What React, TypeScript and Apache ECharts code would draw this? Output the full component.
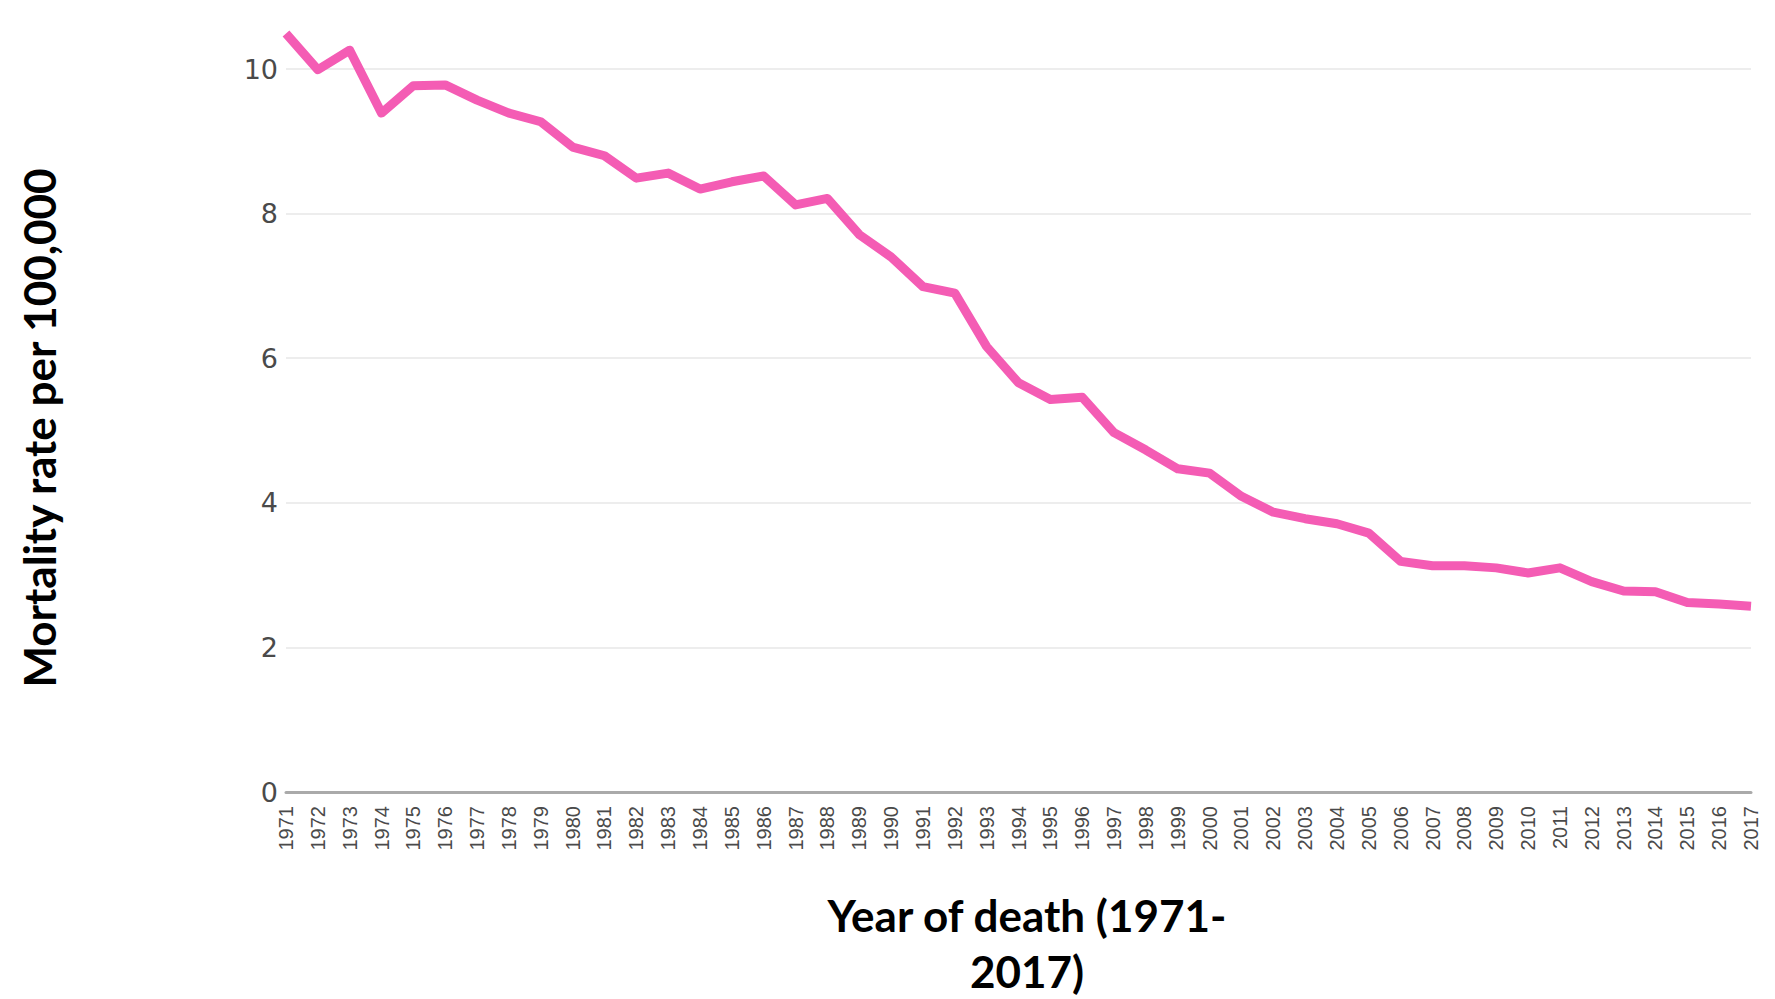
import React, { useEffect, useRef } from "react";
import * as echarts from "echarts";

const years: string[] = [
  "1971","1972","1973","1974","1975","1976","1977","1978","1979","1980",
  "1981","1982","1983","1984","1985","1986","1987","1988","1989","1990",
  "1991","1992","1993","1994","1995","1996","1997","1998","1999","2000",
  "2001","2002","2003","2004","2005","2006","2007","2008","2009","2010",
  "2011","2012","2013","2014","2015","2016","2017",
];

const mortalityRate: number[] = [
  10.49, 9.99, 10.26, 9.39, 9.77, 9.78, 9.57, 9.39, 9.27, 8.92,
  8.8, 8.49, 8.56, 8.34, 8.44, 8.52, 8.12, 8.21, 7.71, 7.4,
  6.99, 6.9, 6.16, 5.66, 5.43, 5.46, 4.97, 4.73, 4.47, 4.41,
  4.09, 3.87, 3.78, 3.71, 3.58, 3.19, 3.13, 3.13, 3.1, 3.03,
  3.1, 2.91, 2.78, 2.77, 2.62, 2.6, 2.57,
];

const yTitle = "Mortality rate per 100,000";
const xTitleLines = ["Year of death (1971-", "2017)"];

export default function App() {
  const ref = useRef<HTMLDivElement>(null);
  useEffect(() => {
    if (!ref.current) return;
    const chart = echarts.init(ref.current, undefined, { renderer: "svg" });
    chart.setOption({
      animation: false,
      backgroundColor: "#ffffff",
      grid: { left: 286, right: 24, top: 69, bottom: 207, containLabel: false },
      xAxis: {
        type: "category",
        data: years,
        boundaryGap: false,
        axisLine: { show: true, lineStyle: { color: "#aaaaaa", width: 3 } },
        axisTick: { show: false },
        axisLabel: {
          rotate: 90,
          interval: 0,
          margin: 14,
          fontSize: 20,
          color: "#4a4a4a",
          fontFamily: "'Liberation Sans', Arial, sans-serif",
        },
        splitLine: { show: false },
      },
      yAxis: {
        type: "value",
        min: 0,
        max: 10,
        interval: 2,
        axisLine: { show: false },
        axisTick: { show: false },
        axisLabel: {
          margin: 8,
          fontSize: 27,
          color: "#4a4a4a",
          fontFamily: "'DejaVu Sans', sans-serif",
        },
        splitLine: { show: true, lineStyle: { color: "#ededed", width: 2 } },
      },
      graphic: [
        {
          type: "text",
          x: 39,
          y: 428,
          rotation: Math.PI / 2,
          style: {
            text: yTitle,
            fontSize: 44,
            fontWeight: "bold",
            fontFamily: "Lato, sans-serif",
            fill: "#000000",
            align: "center",
            verticalAlign: "middle",
          },
        },
        {
          type: "text",
          x: 1027,
          y: 943,
          style: {
            text: xTitleLines.join("\n"),
            fontSize: 44,
            fontWeight: "bold",
            fontFamily: "Lato, sans-serif",
            fill: "#000000",
            align: "center",
            verticalAlign: "middle",
            lineHeight: 56,
          },
        },
      ],
      series: [
        {
          type: "line",
          data: mortalityRate,
          clip: false,
          showSymbol: false,
          symbol: "none",
          lineStyle: { color: "#f45cb4", width: 9, join: "round", cap: "butt" },
          itemStyle: { color: "#f45cb4" },
        },
      ],
    });
    return () => chart.dispose();
  }, []);
  return (
    <div
      ref={ref}
      style={{ position: "fixed", left: 0, top: 0, width: 1775, height: 999 }}
    />
  );
}
